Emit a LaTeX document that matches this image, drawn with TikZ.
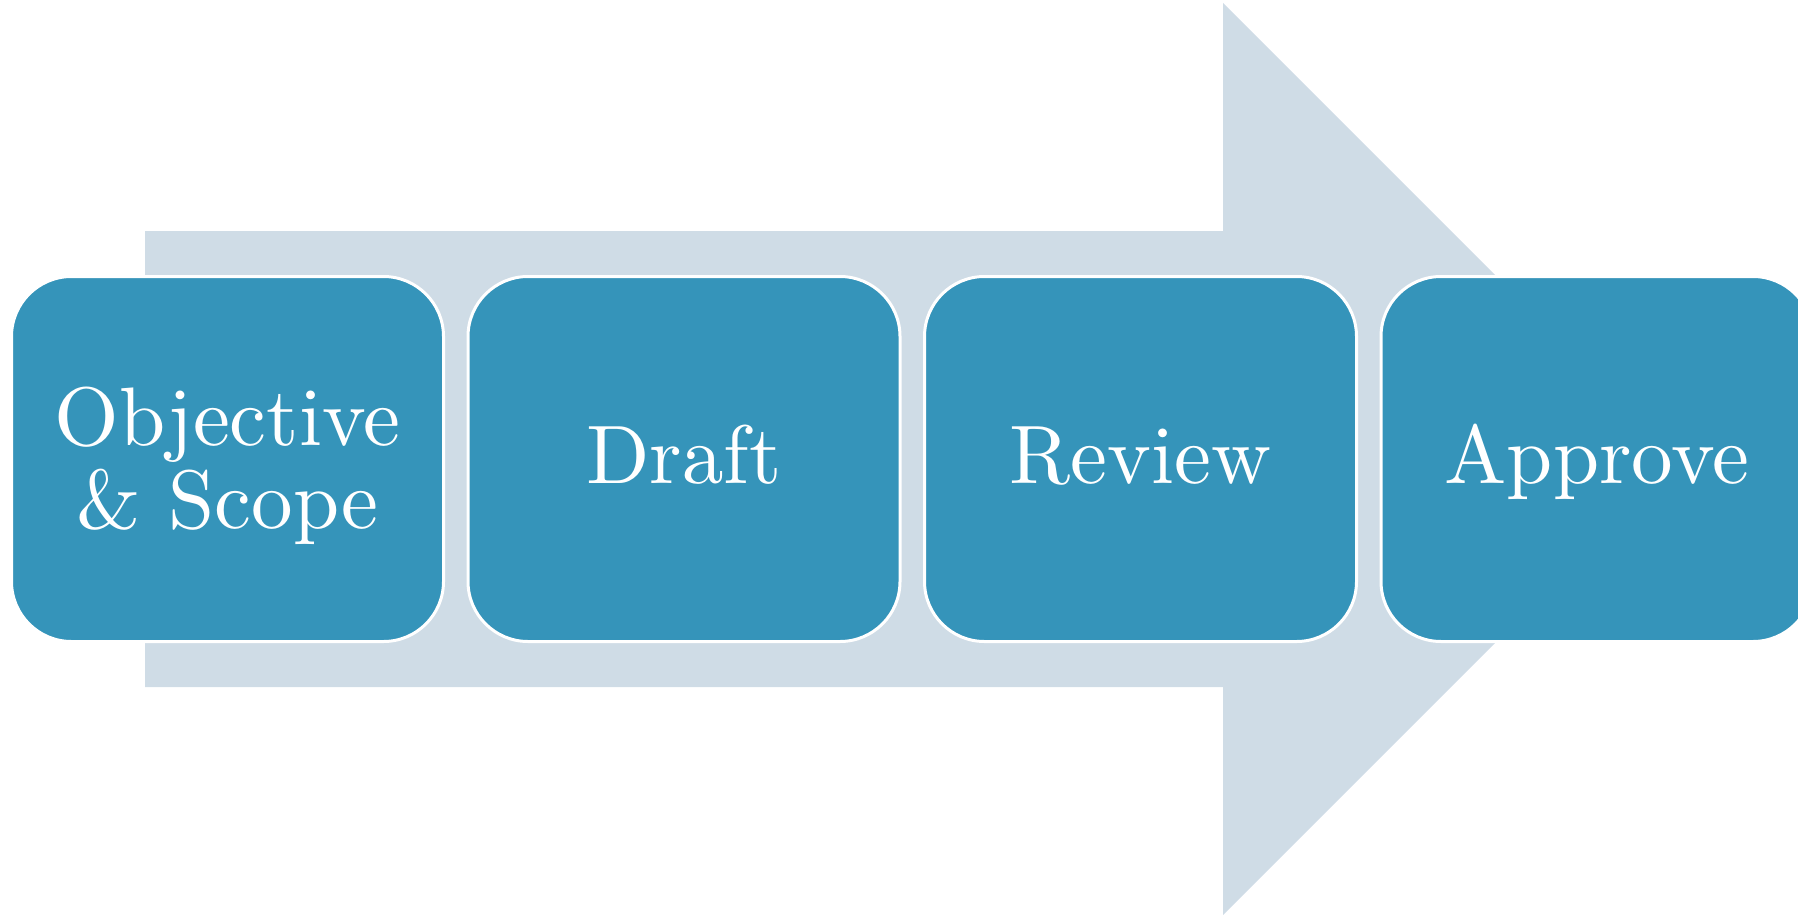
\documentclass[tikz,border=0pt]{standalone}
\definecolor{boxblue}{RGB}{53,148,186}
\definecolor{arrowfill}{RGB}{207,220,230}
\tikzset{
  stepbox/.style={draw=white, line width=3pt, fill=boxblue, rounded corners=60pt,
    minimum width=432pt, minimum height=365pt, inner sep=0pt, outer sep=0pt},
  steplabel/.style={text=white, font=\fontsize{10}{10}\selectfont, align=center, inner sep=0pt},
  oneline/.style={text height=6.87pt, text depth=1.08pt}
}
\begin{document}
\begin{tikzpicture}[x=1pt,y=-1pt]
\useasboundingbox (0,0) rectangle (1798,915);
\clip (0,0) rectangle (1798,915);
\fill[arrowfill] (145,231) -- (1223,231) -- (1223,3) -- (1679,459) -- (1223,915) -- (1223,687) -- (145,687) -- cycle;
\node[stepbox] (b1) at (227.5,459) {};
\node[stepbox] (b2) at (684,459) {};
\node[stepbox] (b3) at (1140.5,459) {};
\node[stepbox] (b4) at (1597,459) {};
\node[steplabel, yshift=-7pt, scale=8.3] (t1) at (b1.center) {Objective\\\& Scope};
\node[steplabel, oneline, scale=8.3] (t2) at (b2.center) {Draft};
\node[steplabel, oneline, scale=8.3] (t3) at (b3.center) {Review};
\node[steplabel, oneline, scale=8.3] (t4) at (b4.center) {Approve};
\end{tikzpicture}
\end{document}
